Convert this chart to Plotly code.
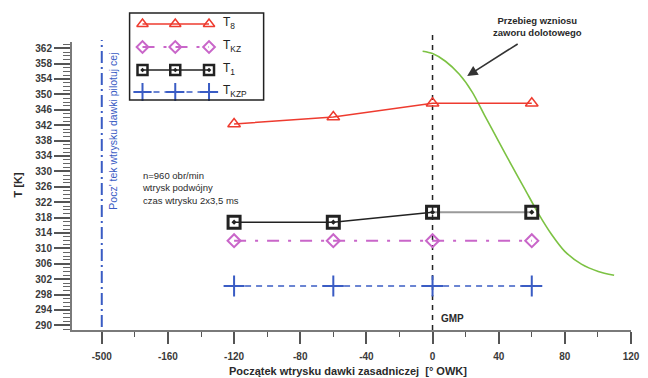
import plotly.graph_objects as go

# Start of main injection [deg crank angle]
angle = [-120, -60, 0, 60]
# Temperatures [K]
T8 = [342.3, 344.1, 347.7, 347.7]
TKZ = [312.0, 312.0, 312.0, 312.0]
T1 = [316.8, 316.8, 319.4, 319.4]
TKZP = [300.2, 300.2, 300.2, 300.2]

# Intake valve lift curve, drawn in the temperature axis units
valve_angle = [-6, 0, 7.8, 16.2, 24, 31.8, 40.2, 48, 55.8, 64.2, 72, 79.8, 90, 100.2, 109.8]
valve_T = [361.2, 360.6, 358.6, 355.2, 350.6, 344.3, 337.6, 331.4, 325.4, 318.9,
           313.6, 309.3, 305.9, 304.0, 303.0]

pilot_angle = -200
tdc_angle = 0

x_tickvals = [-200, -160, -120, -80, -40, 0, 40, 80, 120]
x_ticktext = ["-500", "-160", "-120", "-80", "-40", "0", "40", "80", "120"]
y_tickvals = list(range(290, 363, 4))

series_names = ["T<sub>8</sub>", "T<sub>KZ</sub>", "T<sub>1</sub>", "T<sub>KZP</sub>"]

# ---- page geometry (pixels) ----
W, H = 648, 378
ML, MR, MT, MB = 72, 13, 8, 48
PX0, PX1 = ML, W - MR          # plot area left/right
PY0, PY1 = MT, H - MB          # plot area top/bottom
AXIS_TOP = 42                  # top of the temperature axis


def px(x):
    return (x - PX0) / (PX1 - PX0)


def py(y):
    return (PY1 - y) / (PY1 - PY0)


FONT = "Liberation Sans, Arial, sans-serif"
RED = "#EE3B2F"
MAG = "#C966C9"
BLK = "#222222"
BLUE = "#3A5CC4"
GREEN = "#7CC243"

styles = [
    dict(line=dict(color=RED, width=1.5),
         marker=dict(symbol="triangle-up-open", size=11, color=RED, line=dict(width=1.5, color=RED))),
    dict(line=dict(color=MAG, width=2, dash="12px,9px,3px,9px"),
         marker=dict(symbol="diamond-open", size=10, color=MAG, line=dict(width=2, color=MAG))),
    dict(line=dict(color=BLK, width=1.5),
         marker=dict(symbol="square-open-dot", size=12, color=BLK, line=dict(width=3, color=BLK))),
    dict(line=dict(color=BLUE, width=1.5, dash="6px,5px"),
         marker=dict(symbol="cross-thin-open", size=15, color=BLUE, line=dict(width=2, color=BLUE))),
]

fig = go.Figure()

# valve lift curve
fig.add_trace(go.Scatter(x=valve_angle, y=valve_T, mode="lines",
                         line=dict(color=GREEN, width=1.6, shape="spline", smoothing=0.8),
                         hoverinfo="skip", showlegend=False))

# T8
fig.add_trace(go.Scatter(x=angle, y=T8, mode="lines+markers", showlegend=False, **styles[0]))
# TKZ
fig.add_trace(go.Scatter(x=angle, y=TKZ, mode="lines+markers", showlegend=False, **styles[1]))
# T1: black up to TDC, grey afterwards
fig.add_trace(go.Scatter(x=angle[:3], y=T1[:3], mode="lines", line=dict(color=BLK, width=1.5), showlegend=False))
fig.add_trace(go.Scatter(x=angle[2:], y=T1[2:], mode="lines", line=dict(color="#9a9a9a", width=2), showlegend=False))
fig.add_trace(go.Scatter(x=angle, y=T1, mode="markers", marker=styles[2]["marker"], showlegend=False))
# TKZP
fig.add_trace(go.Scatter(x=angle, y=TKZP, mode="lines+markers", showlegend=False, **styles[3]))

# ---- hand-drawn legend on a pixel-scaled helper subplot ----
LEG_BOX = (130, 13, 265, 100)
LEG_ROWS = [24, 47, 70, 92]
LEG_SAMPLE_X = [143, 176, 210]
LEG_TEXT_X = 222
legend_marker_sizes = [10, 9, 10, 13]
for st, row, ms in zip(styles, LEG_ROWS, legend_marker_sizes):
    mk = dict(st["marker"], size=ms)
    if st["marker"]["symbol"] == "square-open-dot":
        mk["line"] = dict(width=2.5, color=BLK)
    fig.add_trace(go.Scatter(x=LEG_SAMPLE_X, y=[row] * 3, mode="lines+markers", xaxis="x2", yaxis="y2",
                             showlegend=False, hoverinfo="skip", line=st["line"], marker=mk))

tick_font = dict(family=FONT, size=10, color="#3a3a3a", weight="bold")

fig.update_layout(
    width=W, height=H,
    margin=dict(l=ML, r=MR, t=MT, b=MB),
    paper_bgcolor="white", plot_bgcolor="rgba(0,0,0,0)",
    showlegend=False,
    xaxis=dict(range=[-218, 120], domain=[0, 1], anchor="y",
               tickmode="array", tickvals=x_tickvals, ticktext=x_ticktext,
               ticks="outside", ticklen=12, tickwidth=1.5, tickcolor="#555", ticklabelstandoff=4,
               minor=dict(dtick=20, ticks="outside", ticklen=5, tickwidth=1.2, tickcolor="#555"),
               showline=True, linecolor="#7a7a7a", linewidth=2,
               showgrid=False, zeroline=False, tickfont=tick_font),
    yaxis=dict(range=[288.8, 363.6], domain=[0, py(AXIS_TOP)], anchor="x",
               tickmode="array", tickvals=y_tickvals,
               ticks="outside", ticklen=16, tickwidth=1.5, tickcolor="#555",
               minor=dict(dtick=1, ticks="outside", ticklen=7, tickwidth=1, tickcolor="#666"),
               showline=True, linecolor="#7a7a7a", linewidth=2,
               showgrid=False, zeroline=False, tickfont=tick_font),
    xaxis2=dict(range=[PX0, PX1], domain=[0, 1], anchor="y2", visible=False, fixedrange=True),
    yaxis2=dict(range=[PY1, PY0], domain=[0, 1], anchor="x2", visible=False, fixedrange=True),
)

shapes = [
    # top dead centre marker
    dict(type="line", xref="x", yref="paper", x0=tdc_angle, x1=tdc_angle, y0=0, y1=py(33),
         line=dict(color=BLK, width=1.5, dash="5px,5px"), layer="below"),
    # start of pilot injection
    dict(type="line", xref="x", yref="paper", x0=pilot_angle, x1=pilot_angle, y0=py(327), y1=py(40),
         line=dict(color=BLUE, width=2, dash="12px,4px,2px,4px"), layer="below"),
    # legend frame
    dict(type="rect", xref="paper", yref="paper", x0=px(LEG_BOX[0]), x1=px(LEG_BOX[2]),
         y0=py(LEG_BOX[3]), y1=py(LEG_BOX[1]), line=dict(color=BLK, width=1.5), fillcolor="rgba(0,0,0,0)"),
]


def label(x, y, text, size=9.5, color="#2a2a2a", bold=False, **kw):
    d = dict(xref="paper", yref="paper", x=px(x), y=py(y), text=text, showarrow=False,
             xanchor="center", yanchor="middle",
             font=dict(family=FONT, size=size, color=color, weight="bold" if bold else "normal"))
    d.update(kw)
    return d


annotations = [label(LEG_TEXT_X, row - 1, name, size=12, color=BLK, xanchor="left")
               for name, row in zip(series_names, LEG_ROWS)]

annotations += [
    label(18, 185, "T [K]", size=11, bold=True, textangle=-90),
    label(350, 371, "Początek wtrysku dawki zasadniczej  [° OWK]", size=11, bold=True),
    label(113, 131, "Pocz' tek wtrysku dawki pilotuj cej", size=10.5, color=BLUE, textangle=-90),
    label(140, 168, "n=960 obr/min<br>wtrysk podwójny<br>czas wtrysku 2x3,5 ms",
          xanchor="left", yanchor="top", align="left"),
    label(541, 27, "Przebieg wzniosu<br>zaworu dolotowego", bold=True),
    dict(xref="paper", yref="paper", x=px(470), y=py(76), text="", showarrow=True, ax=52, ay=-33,
         arrowhead=2, arrowsize=1.3, arrowwidth=1.6, arrowcolor="#333"),
    label(455, 318, "GMP", size=10, bold=True),
]

fig.update_layout(shapes=shapes, annotations=annotations)
fig.write_html("out.html")
